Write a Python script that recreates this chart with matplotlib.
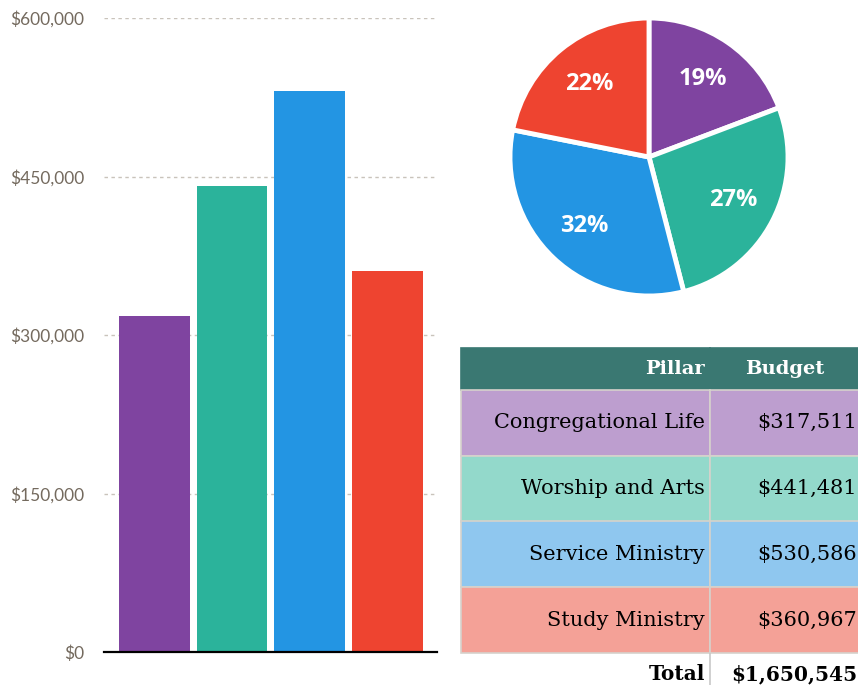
import matplotlib.pyplot as plt

# budget per pillar
pillars = ["Congregational Life", "Worship and Arts", "Service Ministry", "Study Ministry"]
budgets = [317511, 441481, 530586, 360967]
colors = ["#7f44a0", "#2bb39b", "#2395e3", "#ee4430"]
light_colors = ["#bd9ecf", "#93d9cb", "#8fc7ef", "#f4a197"]
yticks = [0, 150000, 300000, 450000, 600000]

fig = plt.figure(figsize=(8.58, 6.85), dpi=100)

# Bar chart
ax = fig.add_axes([104 / 858, 1 - 652 / 685, 333 / 858, 634 / 685])
ax.bar(range(len(budgets)), budgets, width=0.91, color=colors, zorder=2)
ax.set_xlim(-0.65, 3.64)
ax.set_ylim(0, 600000)
ax.set_yticks(yticks)
ax.set_yticklabels(["${:,}".format(v) for v in yticks], fontfamily="Lato",
                   fontsize=12.5, color="#746a5e")
ax.set_xticks([])
ax.tick_params(axis="y", length=0, pad=14)
for s in ["top", "right", "left"]:
    ax.spines[s].set_visible(False)
ax.spines["bottom"].set_linewidth(1.6)
ax.spines["bottom"].set_color("black")
ax.spines["bottom"].set_zorder(3)
ax.yaxis.grid(True, linestyle=(0, (2.5, 2.5)), color="#c9c3bb", linewidth=1, zorder=0)

# Pie chart
pax = fig.add_axes([510 / 858, 1 - 296 / 685, 278 / 858, 278 / 685])
wedges, texts, autotexts = pax.pie(
    budgets, colors=colors, startangle=90, counterclock=False,
    autopct="%1.0f%%", pctdistance=0.68,
    wedgeprops=dict(edgecolor="white", linewidth=3.5),
    textprops=dict(color="white", fontfamily="Open Sans", fontweight="bold",
                   fontstyle="normal", fontsize=17))
pax.set_xlim(-1, 1)
pax.set_ylim(-1, 1)
pax.set_aspect("equal")

# Table
tax = fig.add_axes([461 / 858, 1 - 695 / 685, 399 / 858, 347 / 685])
tax.axis("off")
total = sum(budgets)
cell_text = [[p, "${:,}".format(b)] for p, b in zip(pillars, budgets)]
cell_text.append(["Total", "${:,}".format(total)])
tbl = tax.table(cellText=cell_text, colLabels=["Pillar", "Budget"],
                bbox=[0, 0, 1, 1], colWidths=[249, 150])
tbl.auto_set_font_size(False)
heights = [42, 66, 66, 66, 66, 42]
for (r, c), cell in tbl.get_celld().items():
    cell.set_height(heights[r])
    cell.PAD = 0.02
    txt = cell.get_text()
    txt.set_fontfamily("DejaVu Serif")
    txt.set_fontsize(15)
    txt.set_ha("right")
    cell.set_linewidth(1.2)
    if r == 0:
        cell.set_facecolor("#3a7872")
        cell.set_edgecolor("#3a7872")
        txt.set_color("white")
        txt.set_fontweight("bold")
        txt.set_fontsize(14)
        if c == 1:
            txt.set_ha("center")
    elif r <= len(budgets):
        cell.set_facecolor(light_colors[r - 1])
        cell.set_edgecolor("#d6d2cc")
    else:
        cell.set_facecolor("white")
        cell.set_edgecolor("#c8c8c8")
        cell.visible_edges = "R" if c == 0 else ""
        txt.set_fontweight("bold")
        txt.set_fontsize(14.5)

fig.savefig("out.png", dpi=100)
